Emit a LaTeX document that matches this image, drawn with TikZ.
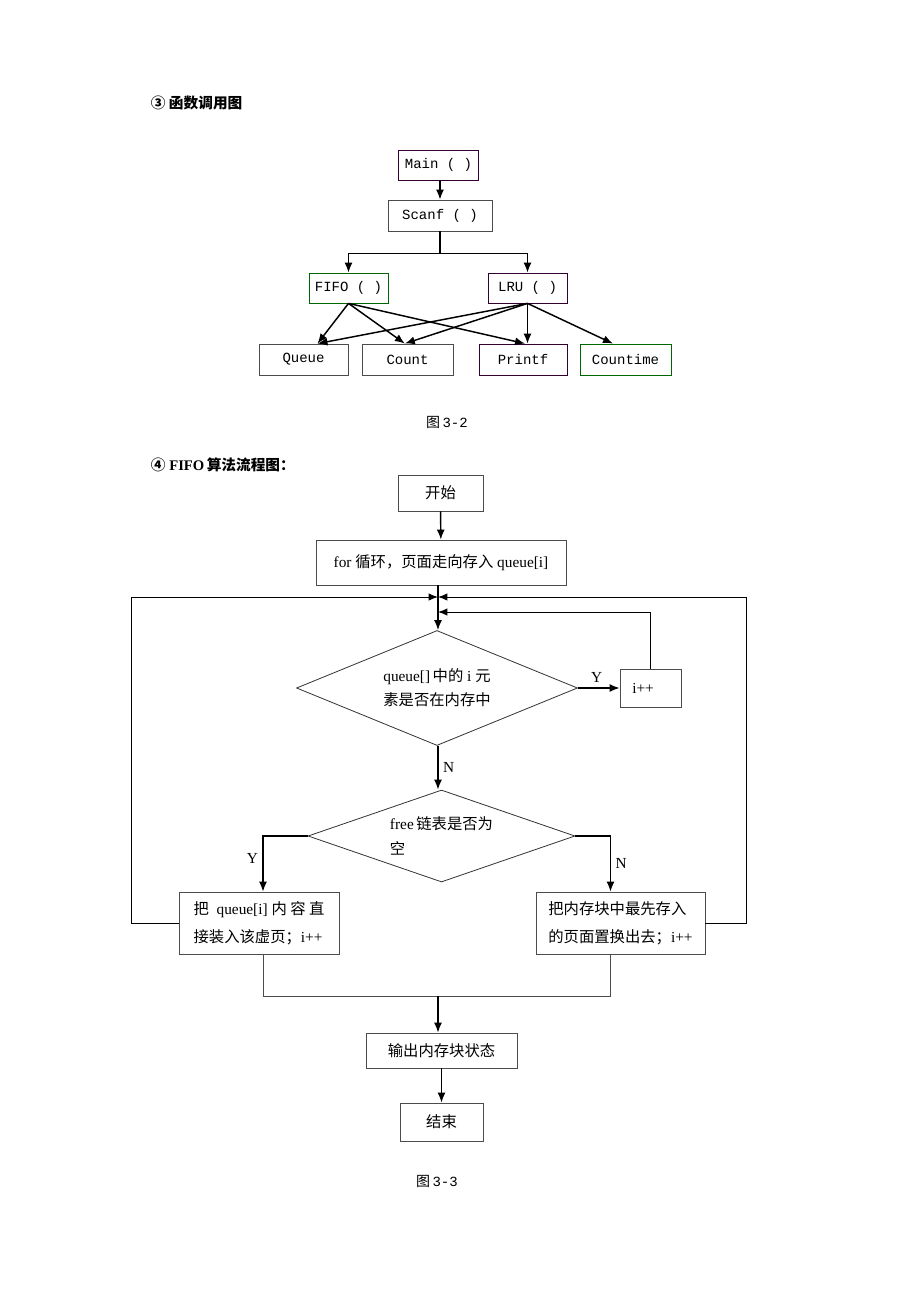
\documentclass[tikz,border=0pt]{standalone}
\usepackage{fontspec}
\setmainfont{Liberation Serif}
\newfontfamily\cjk{Noto Sans CJK SC}
\newfontfamily\codefont{Liberation Mono}
\usepackage{xcolor}
\usepackage{tikz}
\usetikzlibrary{shapes.geometric, arrows.meta}

\begin{document}
\begin{tikzpicture}[x=0.75pt, y=-0.75pt, thick]
        % Define styles for the nodes
        \tikzstyle{callbox} = [rectangle, draw=black!70, line width=0.6pt, inner sep=0pt, minimum height=30*0.75pt, font=\codefont\fontsize{10.5}{12}\selectfont]
        \tikzstyle{flowbox} = [rectangle, draw=black!70, line width=0.6pt, inner sep=0pt, align=left, font=\fontsize{11.5}{15}\selectfont]
        \tikzstyle{decide} = [diamond, draw=black!80, line width=0.6pt, inner sep=0pt, align=left, font=\fontsize{11.5}{18}\selectfont]
        \tikzstyle{arrow} = [-{Latex[length=7.5pt, width=6pt]}, line width=1.1pt]
        \tikzstyle{loopline} = [-{Latex[length=7pt, width=5.5pt]}, line width=0.7pt]
        \tikzstyle{caption} = [font=\fontsize{10.5}{12}\selectfont]

        \useasboundingbox (0,0) rectangle (920,1302);
        \fill[white] (0,0) rectangle (920,1302);

        % Call graph
        \node (title1) [anchor=west, font=\cjk\bfseries\fontsize{11}{13}\selectfont] at (146,103) {③\ 函数调用图};
        \node (main) [callbox, draw=black!60!violet, minimum width=80*0.75pt] at (438.5,165) {Main ( )};
        \node (scanf) [callbox, minimum width=104*0.75pt, minimum height=31*0.75pt] at (440,215.5) {Scanf ( )};
        \node (fifo) [callbox, draw=black!60!green, minimum width=79*0.75pt] at (348.5,288) {FIFO ( )};
        \node (lru) [callbox, draw=black!60!violet, minimum width=79*0.75pt] at (527.5,288) {LRU ( )};
        \node (queue) [callbox, minimum width=89*0.75pt, minimum height=31*0.75pt] at (303.5,359.5) {Queue};
        \node (count) [callbox, minimum width=91*0.75pt, minimum height=31*0.75pt] at (407.5,359.5) {Count};
        \node (printf) [callbox, draw=black!60!violet, minimum width=88*0.75pt, minimum height=31*0.75pt] at (523,359.5) {Printf};
        \node (countime) [callbox, draw=black!60!green, minimum width=91*0.75pt, minimum height=31*0.75pt] at (625.5,359.5) {Countime};
        \node (cap1) [caption] at (447,422) {{\cjk 图}\,{\codefont 3-2}};

        \draw [arrow] (main.south -| scanf.north) -- (scanf.north);
        \draw [line width=1.1pt] (scanf.south) -- ++(0,22) coordinate (split);
        \draw [arrow] (split) -| (fifo.north);
        \draw [arrow] (split) -| (lru.north);
        \draw [arrow] (fifo.south) -- ([xshift=10.5pt]queue.north);
        \draw [arrow] (fifo.south) -- ([xshift=-2pt]count.north);
        \draw [arrow] (fifo.south) -- ([xshift=1.5pt]printf.north);
        \draw [arrow] (lru.south) -- ([xshift=10.5pt]queue.north);
        \draw [arrow] (lru.south) -- ([xshift=-2pt]count.north);
        \draw [arrow] (lru.south) -- (lru.south |- printf.north);
        \draw [arrow] (lru.south) -- ([xshift=-9.4pt]countime.north);

        % FIFO flow chart
        \node (title2) [anchor=west, font=\bfseries\fontsize{11}{13}\selectfont] at (146,465) {{\cjk ④}\ FIFO\,{\cjk 算法流程图：}};
        \node (start) [flowbox, minimum width=85*0.75pt, minimum height=36*0.75pt] at (440.5,493) {\cjk 开始};
        \node (loopfor) [flowbox, minimum width=250*0.75pt, minimum height=45*0.75pt] at (441,562.5) {for {\cjk 循环，页面走向存入} queue[i]};
        \node (inmem) [decide, aspect=2.44, minimum width=281*0.75pt, minimum height=115*0.75pt] at (437,688) {queue[]\,{\cjk 中的} i {\cjk 元}\\{\cjk 素是否在内存中}};
        \node (inc) [flowbox, minimum width=61*0.75pt, minimum height=38*0.75pt] at (650.5,688) {\ i++\hspace{14pt}};
        \node (isfree) [decide, aspect=2.9, minimum width=267*0.75pt, minimum height=92*0.75pt, font=\fontsize{11.5}{19}\selectfont] at (441.5,836) {free\,{\cjk 链表是否为}\\{\cjk 空}\hphantom{\cjk 链表是否为}};
        \node (load) [flowbox, minimum width=160*0.75pt, minimum height=62*0.75pt, font=\fontsize{11.5}{21}\selectfont] at (259,923) {{\cjk 把}\ \ queue[i]\ {\cjk 内\ 容\ 直}\\{\cjk 接装入该虚页；}i++};
        \node (swap) [flowbox, minimum width=169*0.75pt, minimum height=62*0.75pt, font=\fontsize{11.5}{21}\selectfont] at (620.5,923) {{\cjk 把内存块中最先存入}\\{\cjk 的页面置换出去；}i++};
        \node (output) [flowbox, minimum width=151*0.75pt, minimum height=35*0.75pt] at (441.5,1050.5) {\cjk 输出内存块状态};
        \node (finish) [flowbox, minimum width=83*0.75pt, minimum height=38*0.75pt] at (441.5,1122) {\cjk 结束};
        \node (cap2) [caption] at (437,1181) {{\cjk 图}\,{\codefont 3-3}};

        % Junctions of the loop
        \coordinate (jtop) at (438,597);
        \coordinate (jin) at (438,612);
        \coordinate (jbot) at (438,996);

        \draw [arrow] (start) -- (loopfor);
        \draw [arrow] (loopfor.south -| jtop) -- (inmem.north -| jtop);
        \draw [loopline] (load.west) -- ++(-47,0) |- (jtop);
        \draw [loopline] (swap.east) -- ++(41,0) |- (jtop);
        \draw [loopline] (inc.north) |- (jin);
        \draw [arrow] (inmem.east) -- node [above, pos=0.45, font=\fontsize{11.5}{13}\selectfont] {Y} (inc.west);
        \draw [arrow] (inmem.south -| jtop) -- node [right, font=\fontsize{11.5}{13}\selectfont] {N} (isfree.north -| jtop);
        \draw [arrow] (isfree.west) -| node [left, pos=0.7, font=\fontsize{11.5}{13}\selectfont] {Y} ([xshift=3pt]load.north);
        \draw [arrow] (isfree.east) -| node [right, pos=0.75, font=\fontsize{11.5}{13}\selectfont] {N} ([xshift=-7.5pt]swap.north);
        \draw [line width=0.6pt, draw=black!70] ([xshift=3pt]load.south) |- (jbot) -| ([xshift=-7.5pt]swap.south);
        \draw [arrow] (jbot) -- (jbot |- output.north);
        \draw [arrow] (output) -- (finish);
    \end{tikzpicture}
\end{document}
